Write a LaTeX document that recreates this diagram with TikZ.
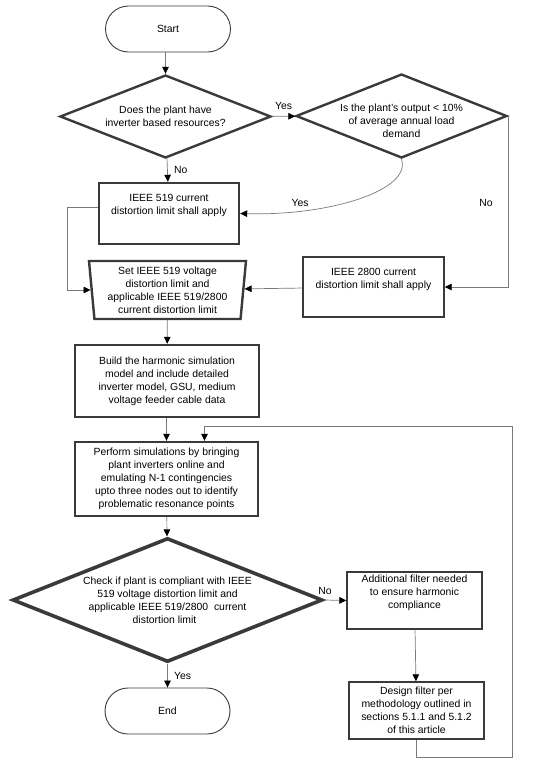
\documentclass[tikz,border=0pt]{standalone}
\usepackage{fontspec}
\setmainfont{Liberation Sans}
\usetikzlibrary{shapes.geometric,arrows.meta}
\definecolor{edgegray}{HTML}{7A7A7A}
\definecolor{boxgray}{HTML}{3A3A3A}
\begin{document}
\begin{tikzpicture}[x=1pt,y=-1pt,
    font=\fontsize{10.4}{13}\selectfont,
    line/.style={draw=edgegray,line width=0.7pt,-{Triangle[length=7pt,width=6.5pt,fill=black,color=black]}},
    term/.style={draw=boxgray,line width=0.9pt,rounded corners=23pt,minimum width=125pt,minimum height=46pt,align=center},
    proc/.style={draw=boxgray,line width=1.4pt,minimum width=135pt,minimum height=57pt,align=center,inner sep=2pt},
    bigproc/.style={draw=boxgray,line width=2.4pt,align=center,inner sep=2pt},
    decide/.style={draw=boxgray,line width=2.4pt,diamond,aspect=2.5,inner sep=-6pt,align=center}]
    \useasboundingbox (0,0) rectangle (550,769);
    % terminals
    \node[term] (start) at (168,29) {Start};
    \node[term] (end) at (167.5,711) {End};
    % decisions
    \node[decide,minimum width=211pt,minimum height=83pt] (plant) at (165.5,116.5) {Does the plant have\\inverter based resources?};
    \node[decide,minimum width=211pt,minimum height=84pt,label={[align=center,yshift=-5pt]center:Is the plant's output < 10\%\\of average annual load\\demand}] (output) at (401.5,116) {};
    \node[decide,line width=3.6pt,minimum width=310pt,minimum height=124pt] (check) at (167.5,600) {Check if plant is compliant with IEEE\\519 voltage distortion limit and\\applicable IEEE 519/2800~ current\\distortion limit\hspace*{6pt}};
    % process boxes
    \node[bigproc,minimum width=140pt,minimum height=61pt] (ieee519) at (169,213.5) {IEEE 519 current\\distortion limit shall apply\\[6pt]};
    \node[draw=boxgray,line width=2.4pt,trapezium,shape border rotate=180,trapezium angle=83.6,trapezium stretches body,minimum width=157pt,minimum height=58pt,inner sep=1pt,align=center] (setlim) at (167.5,290) {Set IEEE 519 voltage\\distortion limit and\\applicable IEEE 519/2800\\current distortion limit};
    \node[proc,minimum width=141pt,minimum height=60pt] (ieee2800) at (373.5,287) {IEEE 2800 current\\distortion limit shall apply\\[4pt]};
    \node[bigproc,minimum width=184pt,minimum height=72pt] (build) at (167,381) {Build the harmonic simulation\\model and include detailed\\inverter model, GSU, medium\\voltage feeder cable data};
    \node[bigproc,minimum width=183pt,minimum height=74pt] (perform) at (166.5,479) {Perform simulations by bringing\\plant inverters online and\\emulating N-1 contingencies\\upto three nodes out to identify\\problematic resonance points};
    \node[proc] (addfilter) at (414.5,600.5) {Additional filter needed\\to ensure harmonic\\compliance\\[4pt]};
    \node[proc] (design) at (416.5,710.5) {Design filter per\\methodology outlined in\\sections 5.1.1 and 5.1.2\\of this article};
    \coordinate (loop) at (512,426);
    % connectors
    \draw[line] (start.south -| plant.north) -- (plant.north);
    \draw[line] (plant) -- node[anchor=south,yshift=3pt]{Yes} (output);
    \draw[line] (plant) -- node[anchor=west,xshift=3pt]{No} (ieee519);
    \draw[line] (output.south) .. controls (412,190) and (330,216) .. (ieee519.east);
    \node (yes2) at (300,203) {Yes};
    \draw[line] (output.east) |- (ieee2800.east);
    \node (no2) at (486,203) {No};
    \draw[line] ([yshift=6pt]ieee519.west) -- ++(-30,0) |- (setlim.west);
    \draw[line] (ieee2800) -- (setlim);
    \draw[line] (setlim) -- (build);
    \draw[line] (build.south -| perform.north) -- (perform.north);
    \draw[line] (perform) -- (check);
    \draw[line] (check) -- node[anchor=west,xshift=3pt]{Yes} (end);
    \draw[line] (check.east) -- node[anchor=south east,yshift=2pt]{No} (addfilter.west);
    \draw[line] (addfilter) -- (design);
    \draw[line] (design.south) -- ++(0,18) -| (loop) -| ([xshift=38pt]perform.north);
\end{tikzpicture}
\end{document}
